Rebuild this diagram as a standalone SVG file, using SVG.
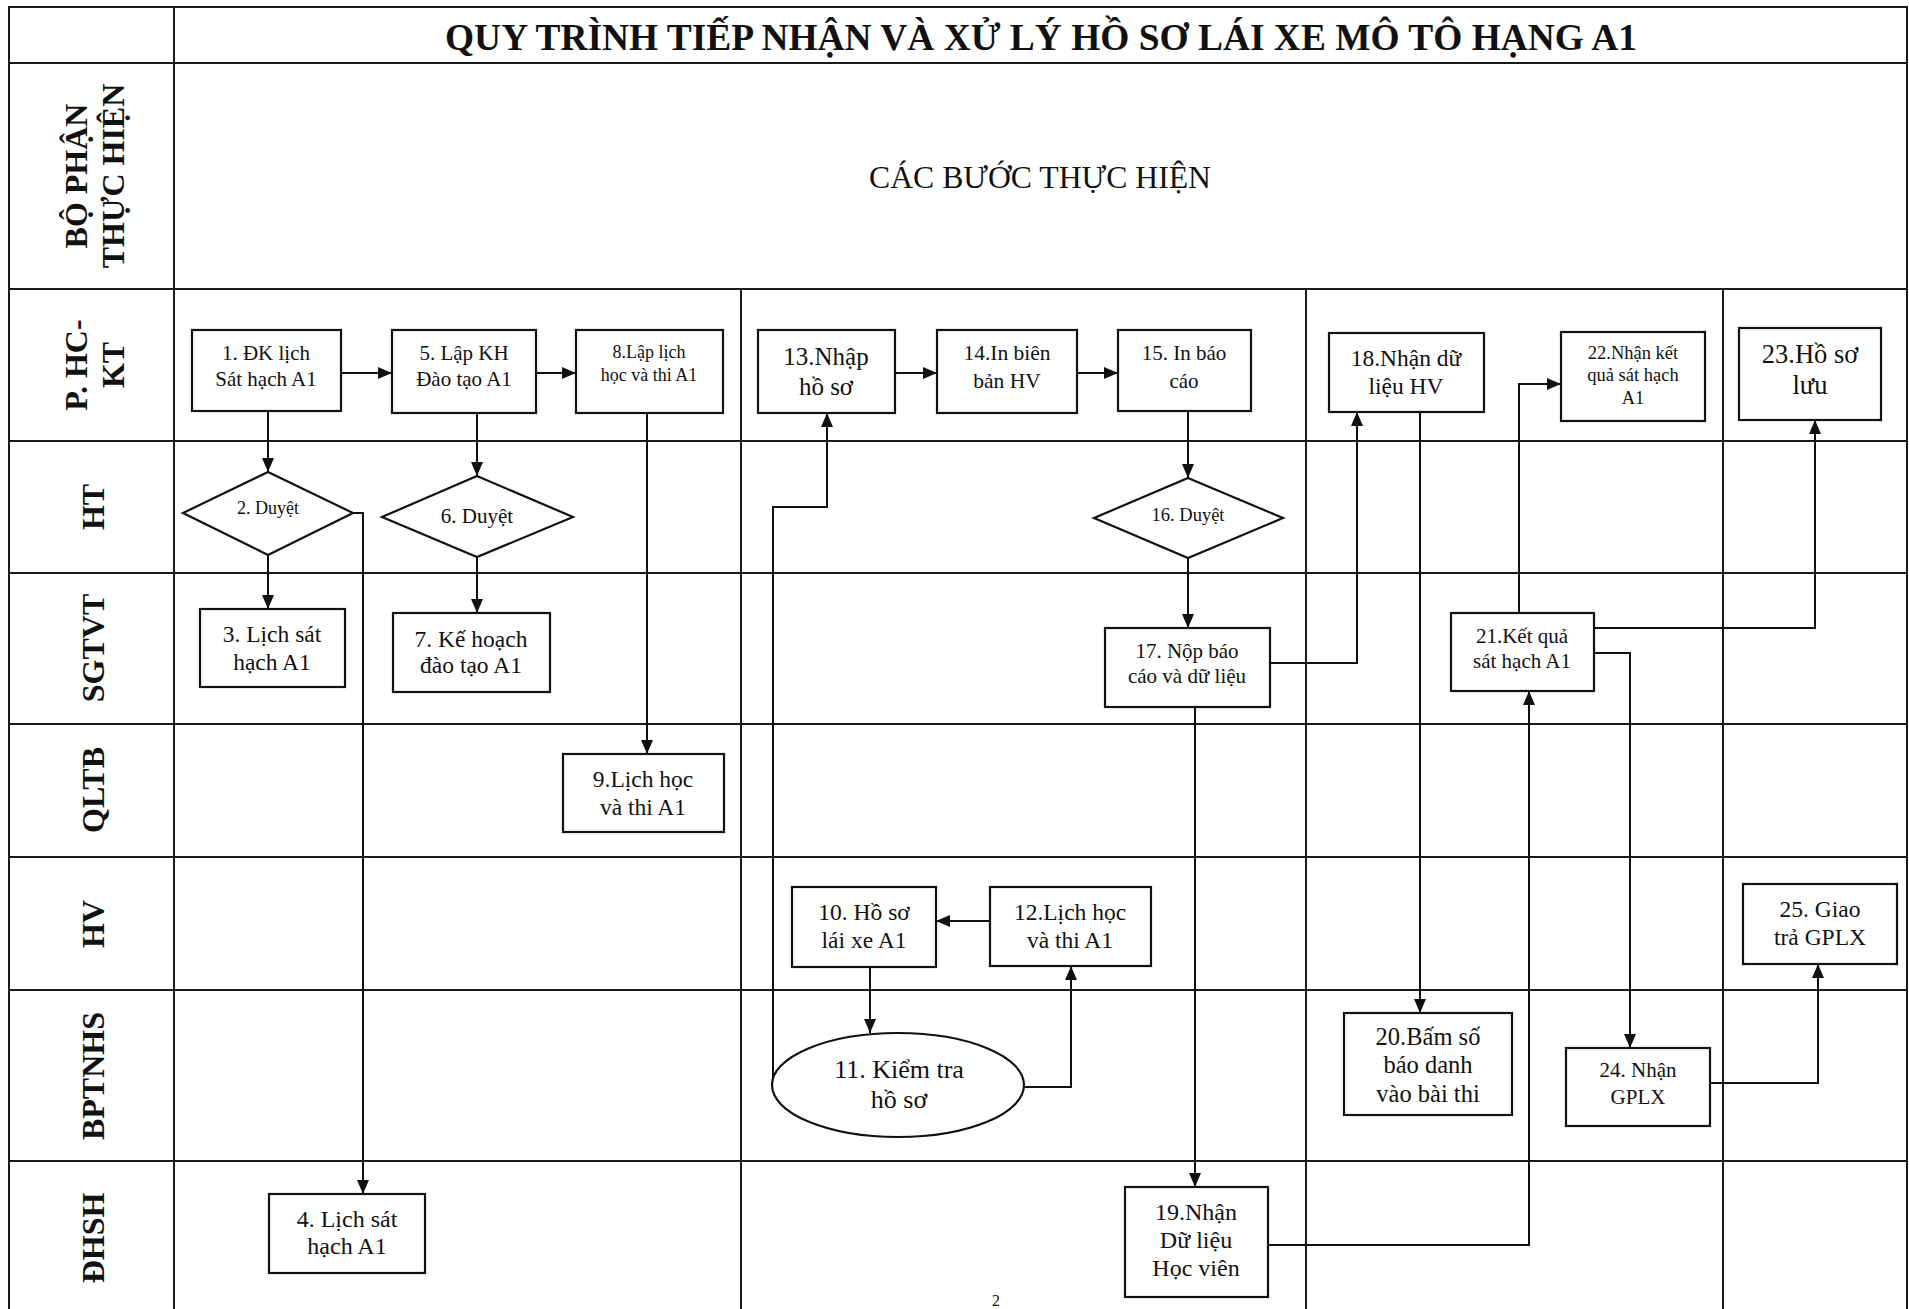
<svg xmlns="http://www.w3.org/2000/svg" width="1909" height="1309" viewBox="0 0 1909 1309">
<style>
  .grid{fill:none;stroke:#1a1a1a;stroke-width:2}
  .box{fill:#fff;stroke:#111;stroke-width:2.2}
  .conn{fill:none;stroke:#111;stroke-width:2}
  text{font-family:"Liberation Serif","Times New Roman",serif;fill:#111}
  .t{text-anchor:middle}
  .lane{font-weight:bold;font-size:32px;text-anchor:middle}
</style>
<defs>
  <marker id="arr" markerUnits="userSpaceOnUse" markerWidth="14" markerHeight="12" refX="14" refY="6" orient="auto">
    <path d="M0,0 L14,6 L0,12 z" fill="#111"/>
  </marker>
</defs>
<rect width="1909" height="1309" fill="#fff"/>

<g id="grid">
  <path class="grid" d="M9,1309 V7 H1907 V1309"/>
  <path class="grid" d="M9,63 H1907 M9,289 H1907 M9,441 H1907 M9,573 H1907 M9,724 H1907 M9,857 H1907 M9,990 H1907 M9,1161 H1907"/>
  <path class="grid" d="M174,7 V1309 M741,289 V1309 M1306,289 V1309 M1723,289 V1309"/>
</g>

<g id="header">
  <text x="1041" y="50" class="t" font-size="38" font-weight="bold" textLength="1192" lengthAdjust="spacingAndGlyphs">QUY TRÌNH TIẾP NHẬN VÀ XỬ LÝ HỒ SƠ LÁI XE MÔ TÔ HẠNG A1</text>
  <text x="1040" y="188" class="t" font-size="32" textLength="342" lengthAdjust="spacingAndGlyphs">CÁC BƯỚC THỰC HIỆN</text>
  <text class="lane" transform="translate(87,176) rotate(-90)">BỘ PHẬN</text>
  <text class="lane" transform="translate(124,176) rotate(-90)">THỰC HIỆN</text>
</g>

<g id="lanes">
  <text class="lane" transform="translate(87,365) rotate(-90)">P. HC-</text>
  <text class="lane" transform="translate(124,365) rotate(-90)">KT</text>
  <text class="lane" transform="translate(104,507) rotate(-90)">HT</text>
  <text class="lane" transform="translate(104,648) rotate(-90)">SGTVT</text>
  <text class="lane" transform="translate(104,790) rotate(-90)">QLTB</text>
  <text class="lane" transform="translate(104,924) rotate(-90)">HV</text>
  <text class="lane" transform="translate(104,1076) rotate(-90)">BPTNHS</text>
  <text class="lane" transform="translate(104,1238) rotate(-90)">ĐHSH</text>
</g>

<g id="connectors">
  <path class="conn" marker-end="url(#arr)" d="M341,373 H392"/>
  <path class="conn" marker-end="url(#arr)" d="M536,373 H576"/>
  <path class="conn" marker-end="url(#arr)" d="M268,411 V472"/>
  <path class="conn" marker-end="url(#arr)" d="M268,555 V609"/>
  <path class="conn" marker-end="url(#arr)" d="M353,513 H363 V1194"/>
  <path class="conn" marker-end="url(#arr)" d="M477,413 V476"/>
  <path class="conn" marker-end="url(#arr)" d="M477,557 V613"/>
  <path class="conn" marker-end="url(#arr)" d="M647,413 V754"/>
  <path class="conn" marker-end="url(#arr)" d="M895,373 H937"/>
  <path class="conn" marker-end="url(#arr)" d="M1077,373 H1118"/>
  <path class="conn" marker-end="url(#arr)" d="M1188,411 V478"/>
  <path class="conn" marker-end="url(#arr)" d="M1188,558 V628"/>
  <path class="conn" marker-end="url(#arr)" d="M1270,663 H1357 V412"/>
  <path class="conn" marker-end="url(#arr)" d="M1195,707 V1187"/>
  <path class="conn" marker-end="url(#arr)" d="M1420,412 V1013"/>
  <path class="conn" marker-end="url(#arr)" d="M1268,1245 H1529 V691"/>
  <path class="conn" marker-end="url(#arr)" d="M1519,613 V384 H1561"/>
  <path class="conn" marker-end="url(#arr)" d="M1594,628 H1815 V420"/>
  <path class="conn" marker-end="url(#arr)" d="M1594,653 H1630 V1048"/>
  <path class="conn" marker-end="url(#arr)" d="M1710,1083 H1818 V964"/>
  <path class="conn" marker-end="url(#arr)" d="M990,921 H936"/>
  <path class="conn" marker-end="url(#arr)" d="M870,967 V1033"/>
  <path class="conn" marker-end="url(#arr)" d="M1024,1087 H1071 V966"/>
  <path class="conn" marker-end="url(#arr)" d="M773,1080 V507 H827 V413"/>
</g>

<g id="n1"><rect class="box" x="192" y="330" width="149" height="81"/>
  <text class="t" font-size="21"><tspan x="266" y="360">1. ĐK lịch</tspan><tspan x="266" y="386">Sát hạch A1</tspan></text></g>
<g id="n2"><polygon class="box" points="268,472 353,513 268,555 183,513"/>
  <text class="t" font-size="18" x="268" y="514">2. Duyệt</text></g>
<g id="n3"><rect class="box" x="200" y="609" width="145" height="78"/>
  <text class="t" font-size="23.5"><tspan x="272" y="642">3. Lịch sát</tspan><tspan x="272" y="670">hạch A1</tspan></text></g>
<g id="n4"><rect class="box" x="269" y="1194" width="156" height="79"/>
  <text class="t" font-size="24"><tspan x="347" y="1227">4. Lịch sát</tspan><tspan x="347" y="1254">hạch A1</tspan></text></g>
<g id="n5"><rect class="box" x="392" y="330" width="144" height="83"/>
  <text class="t" font-size="21"><tspan x="464" y="360">5. Lập KH</tspan><tspan x="464" y="386">Đào tạo A1</tspan></text></g>
<g id="n6"><polygon class="box" points="477,476 573,517 477,557 382,517"/>
  <text class="t" font-size="21" x="477" y="523">6. Duyệt</text></g>
<g id="n7"><rect class="box" x="393" y="613" width="157" height="79"/>
  <text class="t" font-size="23.5"><tspan x="471" y="647">7. Kế hoạch</tspan><tspan x="471" y="673">đào tạo A1</tspan></text></g>
<g id="n8"><rect class="box" x="576" y="330" width="147" height="83"/>
  <text class="t" font-size="18"><tspan x="649" y="358">8.Lập lịch</tspan><tspan x="649" y="381">học và thi A1</tspan></text></g>
<g id="n9"><rect class="box" x="563" y="754" width="161" height="78"/>
  <text class="t" font-size="23.5"><tspan x="643" y="787">9.Lịch học</tspan><tspan x="643" y="815">và thi A1</tspan></text></g>
<g id="n10"><rect class="box" x="792" y="887" width="144" height="80"/>
  <text class="t" font-size="23.5"><tspan x="864" y="920">10. Hồ sơ</tspan><tspan x="864" y="948">lái xe A1</tspan></text></g>
<g id="n11"><ellipse class="box" cx="898" cy="1085" rx="126" ry="52"/>
  <text class="t" font-size="26"><tspan x="899" y="1078">11. Kiểm tra</tspan><tspan x="899" y="1108">hồ sơ</tspan></text></g>
<g id="n12"><rect class="box" x="990" y="887" width="161" height="79"/>
  <text class="t" font-size="23.5"><tspan x="1070" y="920">12.Lịch học</tspan><tspan x="1070" y="948">và thi A1</tspan></text></g>
<g id="n13"><rect class="box" x="758" y="330" width="137" height="83"/>
  <text class="t" font-size="25"><tspan x="826" y="365">13.Nhập</tspan><tspan x="826" y="395">hồ sơ</tspan></text></g>
<g id="n14"><rect class="box" x="937" y="330" width="140" height="83"/>
  <text class="t" font-size="21.5"><tspan x="1007" y="360">14.In biên</tspan><tspan x="1007" y="388">bản HV</tspan></text></g>
<g id="n15"><rect class="box" x="1118" y="330" width="133" height="81"/>
  <text class="t" font-size="21"><tspan x="1184" y="360">15. In báo</tspan><tspan x="1184" y="388">cáo</tspan></text></g>
<g id="n16"><polygon class="box" points="1188,478 1283,518 1188,558 1094,518"/>
  <text class="t" font-size="18.5" x="1188" y="521">16. Duyệt</text></g>
<g id="n17"><rect class="box" x="1105" y="628" width="165" height="79"/>
  <text class="t" font-size="21"><tspan x="1187" y="658">17. Nộp báo</tspan><tspan x="1187" y="683">cáo và dữ liệu</tspan></text></g>
<g id="n18"><rect class="box" x="1329" y="333" width="155" height="79"/>
  <text class="t" font-size="23.5"><tspan x="1406" y="366">18.Nhận dữ</tspan><tspan x="1406" y="394">liệu HV</tspan></text></g>
<g id="n19"><rect class="box" x="1125" y="1187" width="143" height="110"/>
  <text class="t" font-size="24"><tspan x="1196" y="1220">19.Nhận</tspan><tspan x="1196" y="1248">Dữ liệu</tspan><tspan x="1196" y="1276">Học viên</tspan></text></g>
<g id="n20"><rect class="box" x="1344" y="1013" width="168" height="102"/>
  <text class="t" font-size="24.5"><tspan x="1428" y="1045">20.Bấm số</tspan><tspan x="1428" y="1073">báo danh</tspan><tspan x="1428" y="1102">vào bài thi</tspan></text></g>
<g id="n21"><rect class="box" x="1451" y="613" width="143" height="78"/>
  <text class="t" font-size="21"><tspan x="1522" y="643">21.Kết quả</tspan><tspan x="1522" y="668">sát hạch A1</tspan></text></g>
<g id="n22"><rect class="box" x="1561" y="332" width="144" height="89"/>
  <text class="t" font-size="18.5"><tspan x="1633" y="359">22.Nhận kết</tspan><tspan x="1633" y="381">quả sát hạch</tspan><tspan x="1633" y="404">A1</tspan></text></g>
<g id="n23"><rect class="box" x="1739" y="328" width="142" height="92"/>
  <text class="t" font-size="26.5"><tspan x="1810" y="363">23.Hồ sơ</tspan><tspan x="1810" y="394">lưu</tspan></text></g>
<g id="n24"><rect class="box" x="1566" y="1048" width="144" height="78"/>
  <text class="t" font-size="21"><tspan x="1638" y="1077">24. Nhận</tspan><tspan x="1638" y="1104">GPLX</tspan></text></g>
<g id="n25"><rect class="box" x="1743" y="884" width="154" height="80"/>
  <text class="t" font-size="23.5"><tspan x="1820" y="917">25. Giao</tspan><tspan x="1820" y="945">trả GPLX</tspan></text></g>

<text x="996" y="1306" class="t" font-size="16">2</text>
</svg>
